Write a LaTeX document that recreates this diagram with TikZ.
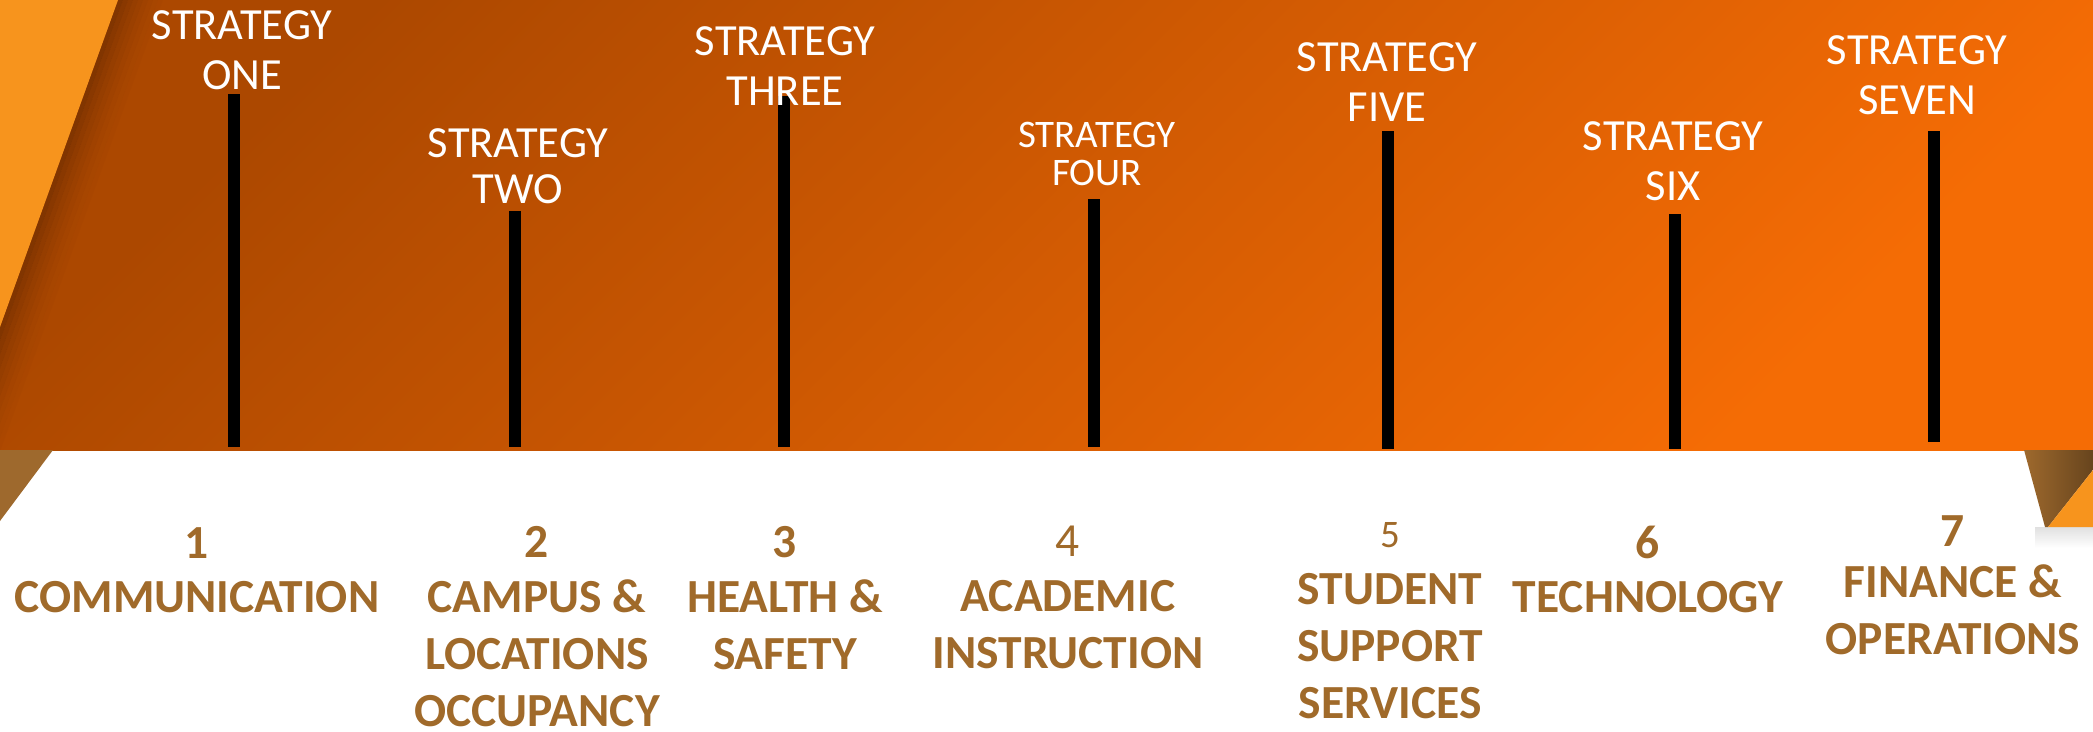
\documentclass[tikz,border=0pt]{standalone}
\usepackage{fontspec}
\setmainfont{Carlito}
\usepackage{tikz}
\usetikzlibrary{positioning}
\definecolor{bandDark}{RGB}{172,72,0}
\definecolor{bandLight}{RGB}{245,108,5}
\definecolor{flapOrange}{RGB}{247,148,29}
\definecolor{flapBrown}{RGB}{158,105,45}
\definecolor{shadeBrown}{RGB}{95,38,0}
\definecolor{topicBrown}{RGB}{160,106,42}

\begin{document}
\begin{tikzpicture}[x=1pt,y=-1pt]
	\useasboundingbox (0,0) rectangle (2093,731);
	\tikzstyle{strat}=[text=white, inner sep=0pt, anchor=north, align=center, font=\fontsize{44.5}{50}\selectfont]
	\tikzstyle{num}=[text=topicBrown, inner sep=0pt, anchor=north, font=\fontsize{47.5}{57}\selectfont\bfseries]
	\tikzstyle{topic}=[text=topicBrown, inner sep=0pt, anchor=north, align=center, font=\fontsize{47.5}{57}\selectfont\bfseries]
	\tikzstyle{bar}=[line width=12pt]
	% orange band and the folded corners
	\shade[top color=bandDark, bottom color=bandLight, shading angle=45] (0,0) rectangle (2093,450);
	\begin{scope}
		\clip (0,0) rectangle (2093,450);
		\foreach \d/\o in {0/0.55,5/0.45,10/0.36,15/0.28,20/0.21,25/0.15,30/0.10,35/0.06,40/0.03}
			\fill[shadeBrown, opacity=\o] (118+\d,0) -- (123+\d,0) -- (\d-39.4,450) -- (\d-44.4,450) -- cycle;
	\end{scope}
	\fill[flapOrange] (0,0) -- (118,0) -- (0,327) -- cycle;
	\fill[flapBrown] (0,450) -- (53,450) -- (0,521) -- cycle;
	\shade[top color=black!12, bottom color=white] (2035,527) rectangle (2093,548);
	\shade[left color=flapBrown, right color=flapBrown!65!black] (2024,450) -- (2093,450) -- (2093,470) -- (2048,527) -- (2045,527) -- cycle;
	\fill[flapOrange] (2048,527) -- (2093,470) -- (2093,527) -- cycle;
	% bars
	\coordinate (b1) at (234,94);   \coordinate (b1e) at (234,447);
	\coordinate (b2) at (515,211);  \coordinate (b2e) at (515,447);
	\coordinate (b3) at (784,96);   \coordinate (b3e) at (784,447);
	\coordinate (b4) at (1094,199); \coordinate (b4e) at (1094,447);
	\coordinate (b5) at (1388,131); \coordinate (b5e) at (1388,449);
	\coordinate (b6) at (1675,214); \coordinate (b6e) at (1675,449);
	\coordinate (b7) at (1934,131); \coordinate (b7e) at (1934,442);
	\draw [bar] (b1) -- (b1e);
	\draw [bar] (b2) -- (b2e);
	\draw [bar] (b3) -- (b3e);
	\draw [bar] (b4) -- (b4e);
	\draw [bar] (b5) -- (b5e);
	\draw [bar] (b6) -- (b6e);
	\draw [bar] (b7) -- (b7e);
	% strategy labels
	\draw (242,10) node (s1) [strat] {STRATEGY\\ONE};
	\draw (518,128) node (s2) [strat, font=\fontsize{44.5}{46}\selectfont] {STRATEGY\\TWO};
	\draw (785,26) node (s3) [strat] {STRATEGY\\THREE};
	\draw (1097,122) node (s4) [strat, font=\fontsize{39}{38}\selectfont] {STRATEGY\\FOUR};
	\draw (1387,42) node (s5) [strat] {STRATEGY\\FIVE};
	\draw (1673,121) node (s6) [strat] {STRATEGY\\SIX};
	\draw (1917,35) node (s7) [strat] {STRATEGY\\SEVEN};
	% topics
	\draw (197,527) node (n1) [num] {1};
	\draw (537,526) node (n2) [num] {2};
	\draw (785,526) node (n3) [num] {3};
	\draw (1068,526) node (n4) [num, font=\fontsize{47.5}{57}\selectfont] {4};
	\draw (1390,522) node (n5) [num, font=\fontsize{39}{57}\selectfont] {5};
	\draw (1648,526) node (n6) [num] {6};
	\draw (1953,515) node (n7) [num] {7};
	\node (t1) [topic, below=23pt of n1] {COMMUNICATION};
	\node (t2) [topic, below=22pt of n2] {CAMPUS \&\\LOCATIONS\\OCCUPANCY};
	\node (t3) [topic, below=22pt of n3] {HEALTH \&\\SAFETY};
	\node (t4) [topic, below=23pt of n4] {ACADEMIC\\INSTRUCTION};
	\node (t5) [topic, below=25pt of n5] {STUDENT\\SUPPORT\\SERVICES};
	\node (t6) [topic, below=22pt of n6] {TECHNOLOGY};
	\node (t7) [topic, below=18pt of n7] {FINANCE \&\\OPERATIONS};
\end{tikzpicture}
\end{document}
